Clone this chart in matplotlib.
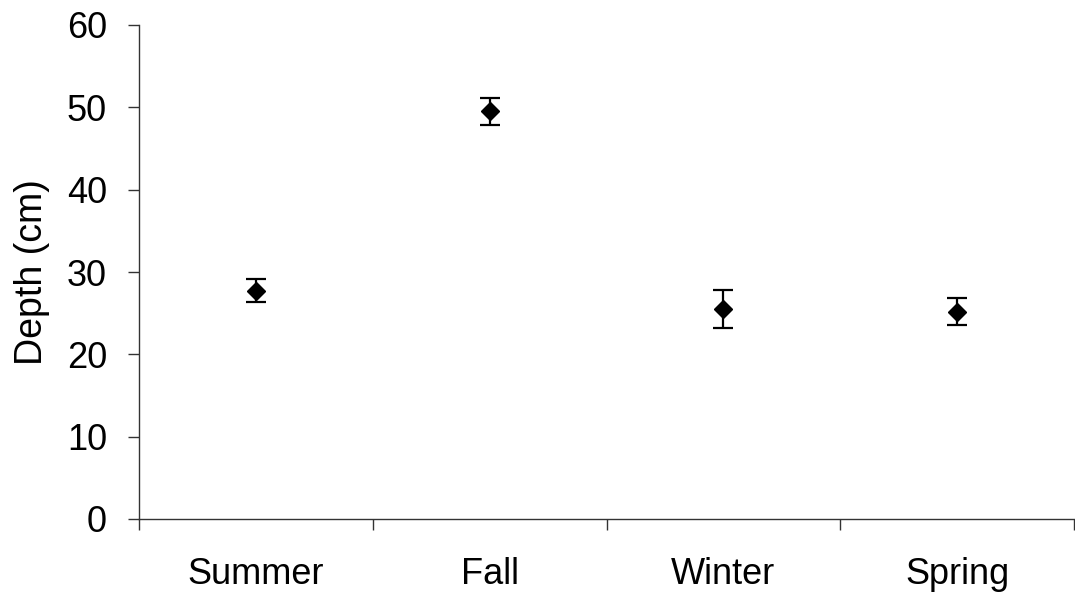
import matplotlib
matplotlib.use("Agg")
import matplotlib.pyplot as plt
import numpy as np

plt.rcParams['font.family'] = ['Liberation Sans', 'DejaVu Sans']

seasons = ["Summer", "Fall", "Winter", "Spring"]
depth_mean = [27.7, 49.5, 25.5, 25.2]
depth_err = [1.4, 1.6, 2.35, 1.65]
y_ticks = [0, 10, 20, 30, 40, 50, 60]

fig = plt.figure(figsize=(10.75, 5.95), dpi=100)
ax = fig.add_axes([139 / 1075, 1 - 519 / 595, (1074 - 139) / 1075, (519 - 25) / 595])

x = np.arange(len(seasons)) + 0.5
ax.errorbar(x, depth_mean, yerr=depth_err, fmt='D', color='black',
            markersize=9, elinewidth=1.6, capsize=7, capthick=1.6)

ax.set_xlim(0, len(seasons))
ax.set_ylim(y_ticks[0], y_ticks[-1])
ax.set_yticks(y_ticks)
ax.set_yticklabels([str(t) for t in y_ticks], fontsize=26)

# category boundaries carry the tick marks, centres carry the labels
ax.set_xticks(np.arange(len(seasons) + 1))
ax.set_xticklabels([])
ax.set_xticks(x, minor=True)
ax.set_xticklabels(seasons, minor=True, fontsize=26)
ax.tick_params(axis='x', which='major', direction='out', length=8, width=1, color='#333333')
ax.tick_params(axis='x', which='minor', length=0, pad=27)
ax.tick_params(axis='y', direction='out', length=8, width=1, color='#333333', pad=15)

for s in ['top', 'right']:
    ax.spines[s].set_visible(False)
for s in ['left', 'bottom']:
    ax.spines[s].set_linewidth(1)
    ax.spines[s].set_color('#333333')

ax.set_ylabel("Depth (cm)", fontsize=27, labelpad=12)

fig.savefig("out.png", dpi=100)
